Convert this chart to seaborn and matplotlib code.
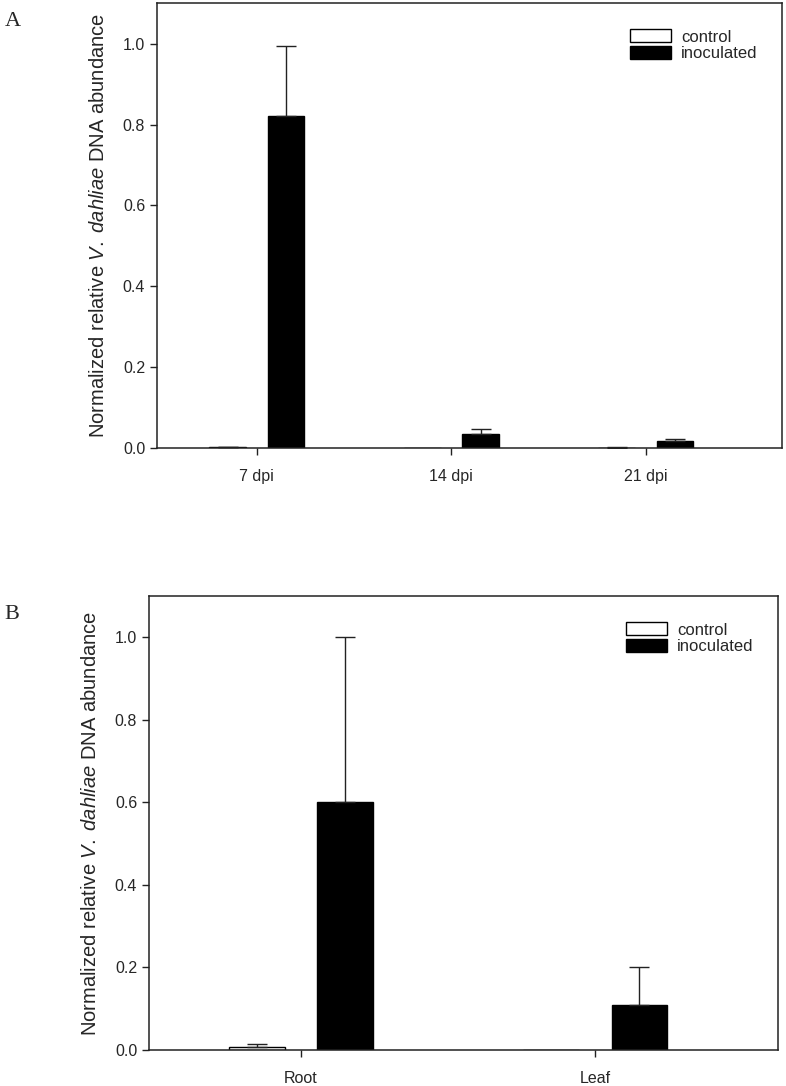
import numpy as np
import pandas as pd
import matplotlib
matplotlib.use("Agg")
import matplotlib.pyplot as plt
import seaborn as sns

# Panel A: time course
days = ["7 dpi", "14 dpi", "21 dpi"]
a_control = [0.002, 0.0, 0.001]
a_control_err = [0.001, 0.0, 0.001]
a_inoc = [0.82, 0.034, 0.017]
a_inoc_err = [0.175, 0.014, 0.006]

# Panel B: tissues
tissues = ["Root", "Leaf"]
b_control = [0.008, 0.0]
b_control_err = [0.007, 0.0]
b_inoc = [0.60, 0.108]
b_inoc_err = [0.40, 0.092]

groups = ["control", "inoculated"]
palette = {"control": "white", "inoculated": "black"}

sns.set_theme(style="ticks")
plt.rcParams["font.family"] = ["Liberation Sans", "DejaVu Sans"]
plt.rcParams["mathtext.fontset"] = "custom"
plt.rcParams["mathtext.it"] = "Liberation Sans:italic"
plt.rcParams["mathtext.rm"] = "Liberation Sans"

fig = plt.figure(figsize=(7.86, 10.86), dpi=100)
axA = fig.add_axes([0.1997, 0.5875, 0.7953, 0.4095])
axB = fig.add_axes([0.1896, 0.0331, 0.8004, 0.4181])


def panel(ax, cats, ctrl, ctrl_err, inoc, inoc_err, xlim, label, lab_x, pad):
    df = pd.DataFrame({
        "cat": cats * 2,
        "grp": ["control"] * len(cats) + ["inoculated"] * len(cats),
        "val": ctrl + inoc,
    })
    sns.barplot(data=df, x="cat", y="val", hue="grp", hue_order=groups,
                order=cats, palette=palette, edgecolor="black", linewidth=1,
                width=0.6, gap=0.37, errorbar=None, ax=ax)
    errs = ctrl_err + inoc_err
    bars = list(ax.patches)[:len(errs)]
    xs = [b.get_x() + b.get_width() / 2 for b in bars]
    hs = [b.get_height() for b in bars]
    for x, h, e in zip(xs, hs, errs):
        if e > 0:
            ax.errorbar(x, h, yerr=[[0], [e]], fmt="none", ecolor="#222222",
                        elinewidth=1, capsize=7, capthick=1)
    ax.set_xlim(*xlim)
    ax.set_ylim(0, 1.1)
    ax.set_yticks([0, 0.2, 0.4, 0.6, 0.8, 1.0])
    ax.set_yticklabels(["0.0", "0.2", "0.4", "0.6", "0.8", "1.0"])
    ax.set_xlabel("")
    ax.set_ylabel(r"Normalized relative $V.\ dahliae$ DNA abundance",
                  fontsize=14.5, labelpad=pad)
    ax.tick_params(axis="both", direction="out", length=5, width=1,
                   labelsize=11.5, color="#222222")
    ax.tick_params(axis="x", pad=10)
    for s in ax.spines.values():
        s.set_visible(True)
        s.set_linewidth(1.1)
        s.set_color("#222222")
    ax.legend(loc="upper right", bbox_to_anchor=(0.985, 0.975),
              frameon=False, fontsize=12, handlelength=2.5,
              handleheight=0.8, labelspacing=0.1, handletextpad=0.6)
    fig.text(lab_x, ax.get_position().y1 - 0.008, label,
             family="Liberation Serif", fontsize=16, va="top")


panel(axA, days, a_control, a_control_err, a_inoc, a_inoc_err,
      (-0.513, 2.70), "A", 0.006, 11)
panel(axB, tissues, b_control, b_control_err, b_inoc, b_inoc_err,
      (-0.517, 1.622), "B", 0.006, 11)

fig.savefig("out.png", dpi=100)
